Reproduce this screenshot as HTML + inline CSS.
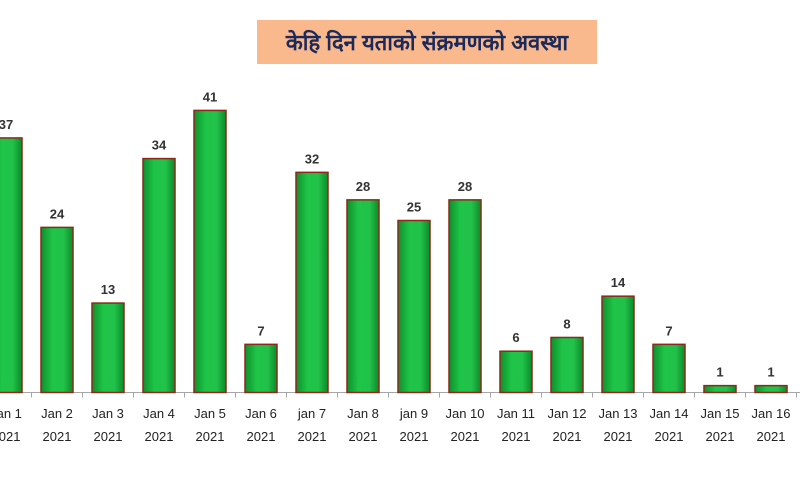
<!DOCTYPE html>
<html><head><meta charset="utf-8"><style>
html,body{margin:0;padding:0;background:#fff;width:800px;height:500px;overflow:hidden}
svg{display:block}
</style></head><body>
<svg width="800" height="500" viewBox="0 0 800 500">
<defs>
<linearGradient id="g" x1="0" x2="1" y1="0" y2="0">
<stop offset="0" stop-color="#0e8f2c"/><stop offset="0.35" stop-color="#1ec447"/><stop offset="0.7" stop-color="#22c24a"/><stop offset="1" stop-color="#0d8a2a"/>
</linearGradient>
</defs>
<rect x="257" y="20" width="340" height="44" fill="#f9b98d"/>
<text x="427" y="50" text-anchor="middle" font-family="'Liberation Sans', sans-serif" font-size="22" font-weight="bold" fill="#1c2a5a">केहि दिन यताको संक्रमणको अवस्था</text>
<g id="plot"></g>
</svg>
<script>
const categories=["Jan 1","Jan 2","Jan 3","Jan 4","Jan 5","Jan 6","jan 7","Jan 8","jan 9","Jan 10","Jan 11","Jan 12","Jan 13","Jan 14","Jan 15","Jan 16","Jan 17"];
const years=["2021","2021","2021","2021","2021","2021","2021","2021","2021","2021","2021","2021","2021","2021","2021","2021","2021"];
const values=[37,24,13,34,41,7,32,28,25,28,6,8,14,7,1,1,2];
const NS="http://www.w3.org/2000/svg";
const plot=document.getElementById('plot');
const slot=51, x0=6, baseY=392.5, pxPer=6.88, bw=32;
function xS(i){return x0+i*slot;}
function yS(v){return baseY-v*pxPer;}
function mk(t,a){const e=document.createElementNS(NS,t);for(const k in a)e.setAttribute(k,a[k]);plot.appendChild(e);return e;}
const axis=mk('line',{x1:0,x2:800,y1:baseY,y2:baseY,stroke:'#a6a6a6','stroke-width':1});


categories.forEach((c,i)=>{
  const cx=xS(i);
  const tk=mk('line',{x1:cx+slot/2,x2:cx+slot/2,y1:baseY,y2:baseY+5,stroke:'#a6a6a6'});
  
  
  const y=yS(values[i]);
  const b=mk('rect',{x:cx-bw/2,y:y,width:bw,height:baseY-y,fill:'url(#g)',stroke:'#8b2a1a','stroke-width':1.5});
  
  
  const vl=mk('text',{x:cx,y:y-9,'text-anchor':'middle','font-family':'Liberation Sans, sans-serif','font-size':13,'font-weight':'bold',fill:'#333'});
  vl.textContent=values[i];
  
  
  const l1=mk('text',{x:cx,y:418,'text-anchor':'middle','font-family':'Liberation Sans, sans-serif','font-size':13,fill:'#222'});
  l1.textContent=c;
  
  
  const l2=mk('text',{x:cx,y:441,'text-anchor':'middle','font-family':'Liberation Sans, sans-serif','font-size':13,fill:'#222'});
  l2.textContent=years[i];
  
  
});
</script>
</body></html>
